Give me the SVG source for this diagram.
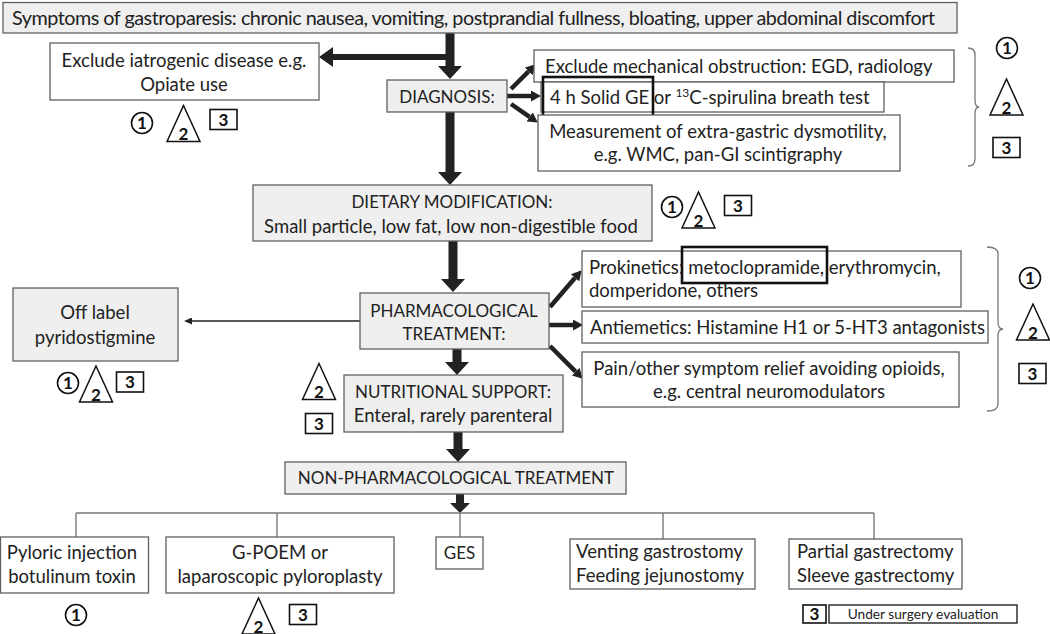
<svg xmlns="http://www.w3.org/2000/svg" width="1050" height="634" viewBox="0 0 1050 634">
<style>
text{font-family:Lato,"Open Sans","Liberation Sans",sans-serif;fill:#222;}
.t{font-size:18.5px;text-anchor:middle;}
.l{font-size:18.5px;text-anchor:start;}
.c{font-size:17px;text-anchor:middle;}
.sym{font-size:17px;font-weight:bold;text-anchor:middle;fill:#111;}
.g{fill:#efefef;stroke:#606060;stroke-width:1.3;}
.w{fill:#fff;stroke:#606060;stroke-width:1.3;}
.hl{fill:none;stroke:#111;stroke-width:2.6;}
.ar{fill:#222;stroke:none;}
.dg{stroke:#222;stroke-width:4.5;fill:none;}
.tree{stroke:#7a7a7a;stroke-width:1.4;fill:none;}
.br{stroke:#777;stroke-width:1.3;fill:none;}
</style>
<defs>
<marker id="hd" markerUnits="userSpaceOnUse" markerWidth="10" markerHeight="11" refX="0" refY="5.5" orient="auto" viewBox="0 0 10 11"><path d="M0,0 L10,5.5 L0,11 Z" fill="#222"/></marker>
<marker id="hs" markerUnits="userSpaceOnUse" markerWidth="8" markerHeight="7" refX="1" refY="3.5" orient="auto" viewBox="0 0 8 7"><path d="M0,0 L8,3.5 L0,7 Z" fill="#222"/></marker>
<g id="c1"><circle r="10.5" fill="#fff" stroke="#111" stroke-width="1.6"/><text class="sym" y="6">1</text></g>
<g id="t2"><path d="M0,-18 L16.5,18 L-16.5,18 Z" fill="#fff" stroke="#111" stroke-width="1.5"/><text class="sym" y="16.5" font-size="18">2</text></g>
<g id="s3"><rect x="-13.5" y="-10" width="27" height="20" fill="#fff" stroke="#111" stroke-width="1.6"/><text class="sym" y="6">3</text></g>
<g id="s3s"><rect x="-11.5" y="-9" width="23" height="18" fill="#fff" stroke="#111" stroke-width="1.6"/><text class="sym" y="5.5" font-size="16">3</text></g>
</defs>

<g id="connectors">
<path class="ar" d="M445.5,33 H454.5 V66 H462 L450,79 L438,66 H445.5 Z"/>
<path class="ar" d="M446,54 V60 H333 V67 L319,57 L333,47 V54 Z"/>
<path class="ar" d="M445.5,112 H454.5 V172 H462 L450,185 L438,172 H445.5 Z"/>
<path class="ar" d="M448.5,241 H457.5 V279 H465 L453,292 L441,279 H448.5 Z"/>
<path class="ar" d="M452.5,349 H461.5 V362 H469 L457,375 L445,362 H452.5 Z"/>
<path class="ar" d="M453.5,432 H462.5 V449 H470 L458,462 L446,449 H453.5 Z"/>
<path class="ar" d="M456,494 H464 V503 H470 L460,513 L450,503 H456 Z"/>
<line class="dg" x1="511" y1="89" x2="528.6" y2="71.4" marker-end="url(#hd)"/>
<line class="dg" x1="507" y1="96" x2="531" y2="96" marker-end="url(#hd)"/>
<line class="dg" x1="511" y1="104" x2="529.6" y2="116.9" marker-end="url(#hd)"/>
<line class="dg" x1="550" y1="307" x2="575.1" y2="277.8" marker-end="url(#hd)" stroke-width="5"/>
<line class="dg" x1="549" y1="325" x2="573" y2="325" marker-end="url(#hd)" stroke-width="5"/>
<line class="dg" x1="550" y1="346" x2="575.6" y2="371.6" marker-end="url(#hd)" stroke-width="5"/>
<line x1="360" y1="321" x2="191" y2="321" stroke="#222" stroke-width="1.5" marker-end="url(#hs)"/>
<path class="tree" d="M76,513 H874 M76,513 V537 M277,513 V537 M460,513 V537 M663,513 V539 M874,513 V539"/>
<path class="br" d="M968,48 Q975,48 975,55 V100 Q975,107 979,107 Q975,107 975,114 V159 Q975,166 968,166"/>
<path class="br" d="M987,247 Q998,247 998,254 V322 Q998,329 1003,329 Q998,329 998,336 V404 Q998,411 987,411"/>
</g>

<g id="symptoms"><rect class="g" x="3" y="2.5" width="954" height="30.5"/><text x="12" y="25" font-size="19.8" textLength="923">Symptoms of gastroparesis: chronic nausea, vomiting, postprandial fullness, bloating, upper abdominal discomfort</text></g>

<g id="exclude-iatrogenic"><rect class="w" x="50" y="43" width="269" height="57"/><text class="t" x="184" y="67">Exclude iatrogenic disease e.g.</text><text class="t" x="184" y="91">Opiate use</text>
<use href="#c1" x="142" y="123"/><use href="#t2" x="183.5" y="123.5"/><use href="#s3" x="223.5" y="119.5"/></g>

<g id="diagnosis"><rect class="g" x="387" y="80" width="120" height="32"/><text class="c" x="447" y="103">DIAGNOSIS:</text></g>

<g id="mechanical"><rect class="w" x="534" y="50" width="420" height="32"/><text class="l" x="545" y="73">Exclude mechanical obstruction: EGD, radiology</text></g>
<g id="solid-ge"><rect class="w" x="541" y="82" width="343" height="30"/><text class="l" x="550" y="104">4 h Solid GE or <tspan font-size="12" dy="-7">13</tspan><tspan dy="7">C-spirulina breath test</tspan></text>
<rect class="hl" x="543" y="77" width="110" height="42"/></g>
<g id="extragastric"><rect class="w" x="538" y="115" width="362" height="56"/><text class="t" x="718" y="138">Measurement of extra-gastric dysmotility,</text><text class="t" x="718" y="161">e.g. WMC, pan-GI scintigraphy</text></g>
<g id="diag-evidence"><use href="#c1" x="1007" y="48"/><use href="#t2" x="1006.5" y="97"/><use href="#s3" x="1006.5" y="147.5"/></g>

<g id="dietary"><rect class="g" x="253" y="185" width="399" height="56"/><text class="c" x="452" y="208">DIETARY MODIFICATION:</text><text class="t" x="451" y="233">Small particle, low fat, low non-digestible food</text>
<use href="#c1" x="672" y="207"/><use href="#t2" x="698.5" y="210"/><use href="#s3" x="738" y="205.5"/></g>

<g id="pharmacological"><rect class="g" x="360" y="293" width="189" height="56"/><text class="c" x="454" y="317">PHARMACOLOGICAL</text><text class="c" x="454" y="340">TREATMENT:</text></g>

<g id="off-label"><rect class="g" x="13" y="288" width="165" height="73"/><text class="t" x="95" y="319">Off label</text><text class="t" x="95" y="344">pyridostigmine</text>
<use href="#c1" x="68" y="383"/><use href="#t2" x="96" y="384"/><use href="#s3" x="130" y="382"/></g>

<g id="prokinetics"><rect class="w" x="582" y="251" width="379" height="56"/><text class="l" x="589" y="274">Prokinetics: metoclopramide, erythromycin,</text><text class="l" x="589" y="297">domperidone, others</text>
<rect class="hl" x="682" y="247" width="145" height="36"/></g>
<g id="antiemetics"><rect class="w" x="582" y="311" width="406" height="32"/><text class="l" x="590" y="334" font-size="18">Antiemetics: Histamine H1 or 5-HT3 antagonists</text></g>
<g id="pain"><rect class="w" x="582" y="352" width="377" height="55"/><text class="t" x="769" y="375">Pain/other symptom relief avoiding opioids,</text><text class="t" x="769" y="398">e.g. central neuromodulators</text></g>
<g id="pharm-evidence"><use href="#c1" x="1030" y="278"/><use href="#t2" x="1033" y="322"/><use href="#s3" x="1032.5" y="373.5"/></g>

<g id="nutritional"><rect class="g" x="344" y="375" width="219" height="57"/><text class="c" x="453" y="398">NUTRITIONAL SUPPORT:</text><text class="t" x="453" y="422">Enteral, rarely parenteral</text>
<use href="#t2" x="319" y="381.5"/><use href="#s3" x="319" y="423.5"/></g>

<g id="non-pharmacological"><rect class="g" x="285" y="462" width="341" height="32"/><text class="c" x="456" y="484">NON-PHARMACOLOGICAL TREATMENT</text></g>

<g id="pyloric"><rect class="w" x="0.5" y="537" width="148" height="56"/><text class="t" x="72" y="559">Pyloric injection</text><text class="t" x="72" y="583">botulinum toxin</text><use href="#c1" x="76" y="615"/></g>
<g id="gpoem"><rect class="w" x="166" y="537" width="228" height="56"/><text class="t" x="280" y="559">G-POEM or</text><text class="t" x="280" y="583">laparoscopic pyloroplasty</text><use href="#t2" x="258.5" y="616"/><use href="#s3" x="303" y="614.5"/></g>
<g id="ges"><rect class="w" x="436" y="537" width="47" height="32"/><text class="c" x="459.5" y="559">GES</text></g>
<g id="venting"><rect class="w" x="570" y="539" width="185" height="50"/><text class="l" x="576" y="558">Venting gastrostomy</text><text class="l" x="576" y="582">Feeding jejunostomy</text></g>
<g id="gastrectomy"><rect class="w" x="789" y="539" width="173" height="50"/><text class="l" x="797" y="558">Partial gastrectomy</text><text class="l" x="797" y="582">Sleeve gastrectomy</text></g>
<g id="legend"><use href="#s3s" x="814.5" y="614"/><rect x="829" y="605" width="188" height="18" fill="#fff" stroke="#111" stroke-width="1.3"/><text x="923" y="619" font-size="13.7" text-anchor="middle">Under surgery evaluation</text></g>
</svg>
